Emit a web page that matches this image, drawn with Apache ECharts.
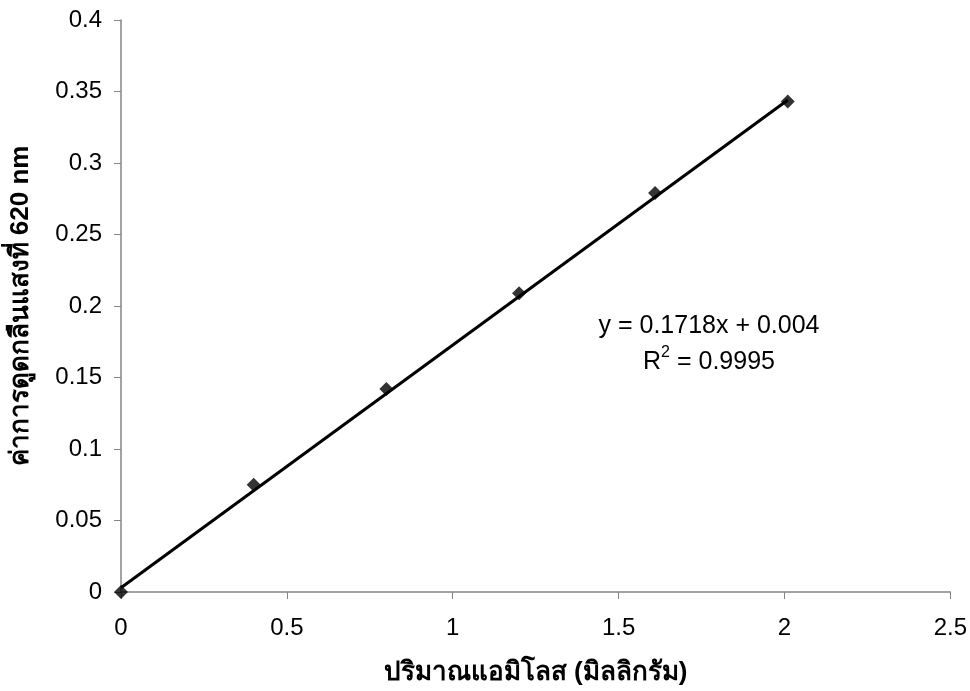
<!DOCTYPE html>
<html>
<head>
<meta charset="utf-8">
<script src="https://cdn.jsdelivr.net/npm/echarts@6/dist/echarts.min.js"></script>
<style>
html,body{margin:0;padding:0;background:#fff;}
#chart{width:970px;height:691px;}
</style>
</head>
<body>
<div id="chart"></div>
<script>
// Data
const amylose = [0, 0.4, 0.8, 1.2, 1.61, 2.01];
const absorbance = [0, 0.075, 0.142, 0.209, 0.279, 0.343];
const trendX = [0, 2.01];
const trendY = [0.003, 0.344];
const equationText = 'y = 0.1718x + 0.004';
const r2Text = 'R{sup|2} = 0.9995';
const xAxisTitle = 'ปริมาณแอมิโลส (มิลลิกรัม)';
const yAxisTitle = 'ค่าการดูดกลืนแสงที่ 620 nm';

const chart = echarts.init(document.getElementById('chart'), null, {renderer: 'canvas'});
const font = '"Liberation Sans", Arial, sans-serif';

chart.setOption({
  animation: false,
  backgroundColor: '#ffffff',
  grid: {left: 120, right: 17, top: 20, bottom: 97, containLabel: false},
  xAxis: {
    type: 'value', min: 0, max: 2.5, interval: 0.5,
    name: xAxisTitle, nameLocation: 'middle', nameGap: 68,
    nameTextStyle: {fontFamily: font, fontWeight: 'bold', fontSize: 26, color: '#000'},
    axisLine: {show: true, onZero: false, lineStyle: {color: '#858585', width: 1.5}},
    axisTick: {show: true, inside: false, length: 7, lineStyle: {color: '#858585'}},
    axisLabel: {fontFamily: font, fontSize: 24, color: '#000', margin: 24},
    splitLine: {show: false}
  },
  yAxis: {
    type: 'value', min: 0, max: 0.4, interval: 0.05,
    name: yAxisTitle, nameLocation: 'middle', nameGap: 87, nameRotate: 90,
    nameTextStyle: {fontFamily: font, fontWeight: 'bold', fontSize: 26, color: '#000'},
    axisLine: {show: true, onZero: false, lineStyle: {color: '#858585', width: 1.5}},
    axisTick: {show: true, inside: false, length: 7, lineStyle: {color: '#858585'}},
    axisLabel: {fontFamily: font, fontSize: 24, color: '#000', margin: 19},
    splitLine: {show: false}
  },
  series: [
    {
      type: 'line',
      data: trendX.map((x, i) => [x, trendY[i]]),
      showSymbol: false,
      lineStyle: {color: '#000', width: 3},
      z: 2
    },
    {
      type: 'scatter',
      data: amylose.map((x, i) => [x, absorbance[i]]),
      symbol: 'diamond',
      symbolSize: 14,
      itemStyle: {color: '#000'},
      z: 3
    }
  ],
  graphic: [
    {
      type: 'text', x: 709, y: 326,
      style: {text: equationText, font: '25px ' + font, fill: '#000', align: 'center', verticalAlign: 'middle'}
    },
    {
      type: 'text', x: 709, y: 362,
      style: {
        text: r2Text, font: '25px ' + font, fill: '#000', align: 'center', verticalAlign: 'middle',
        rich: {sup: {fontSize: 16, fontFamily: font, verticalAlign: 'top', lineHeight: 34}}
      }
    }
  ]
});
</script>
</body>
</html>
